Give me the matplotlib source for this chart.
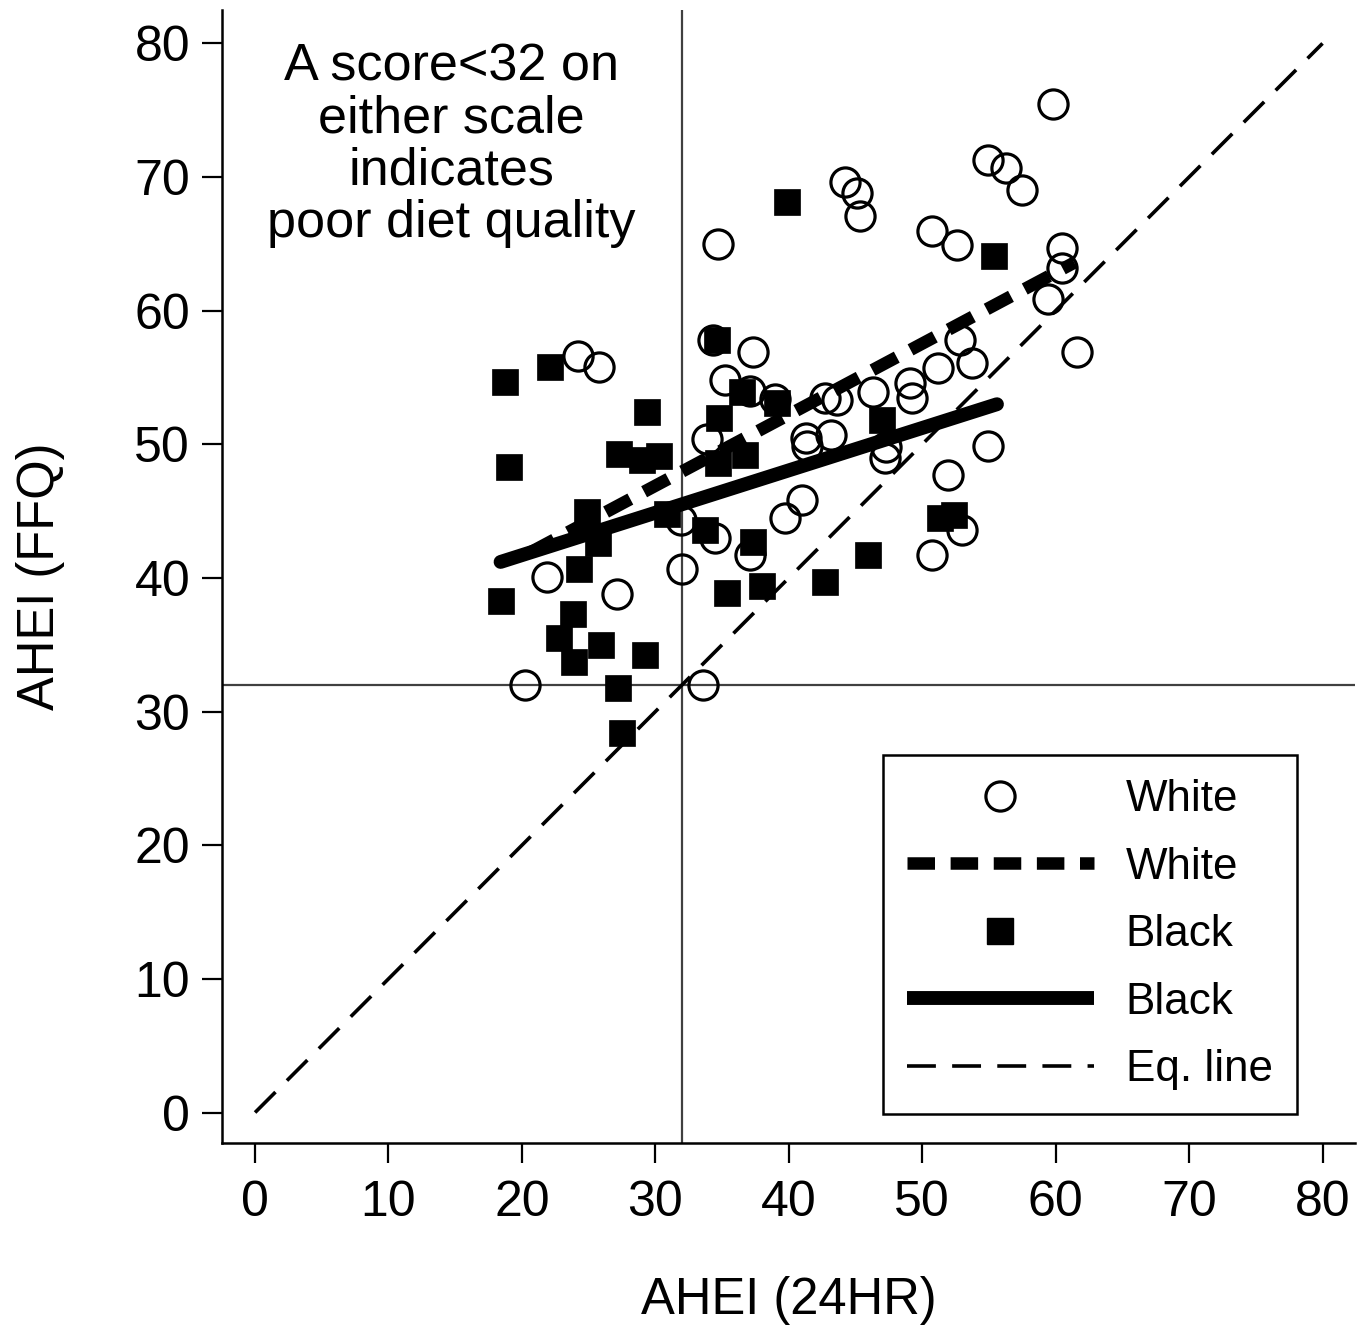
import matplotlib
matplotlib.use("Agg")
import matplotlib.pyplot as plt
from matplotlib.lines import Line2D
import numpy as np

plt.rcParams['font.family'] = ['Liberation Sans', 'DejaVu Sans']

# White participants: AHEI (24HR) vs AHEI (FFQ)
white_x = [20.2, 21.9, 24.2, 25.8, 27.1, 31.9, 32.0, 33.6, 33.9, 34.5, 34.7, 34.3, 35.2,
           37.3, 37.1, 37.1, 39.0, 39.7, 41.0, 41.3, 41.4, 42.7, 43.2, 43.6, 44.2, 45.1,
           45.3, 46.3, 47.3, 47.2, 49.1, 49.2, 50.7, 50.7, 51.2, 51.9, 52.6, 52.8, 53.0,
           53.7, 54.9, 54.9, 56.3, 57.5, 59.8, 59.4, 60.5, 60.5, 61.6]
white_y = [32.0, 40.1, 56.6, 55.8, 38.8, 44.3, 40.7, 32.0, 50.4, 43.0, 65.0, 57.8, 54.8,
           56.9, 41.7, 54.0, 53.4, 44.5, 45.8, 50.5, 49.9, 53.5, 50.7, 53.3, 69.6, 68.8,
           67.1, 53.9, 49.8, 49.0, 54.6, 53.5, 66.0, 41.7, 55.7, 47.7, 64.9, 57.8, 43.6,
           56.1, 49.9, 71.3, 70.7, 69.0, 75.5, 60.9, 64.7, 63.2, 56.9]

# Black participants
black_x = [18.7, 22.1, 19.0, 18.4, 29.4, 27.3, 29.0, 30.3, 24.9, 25.7, 24.3, 23.8, 22.8,
           23.9, 25.9, 29.2, 27.2, 27.5, 30.9, 33.7, 34.6, 36.5, 34.8, 34.7, 36.7, 37.3,
           38.0, 35.4, 39.1, 39.9, 42.7, 45.9, 47.0, 51.3, 52.4, 55.4]
black_y = [54.7, 55.8, 48.3, 38.3, 52.4, 49.3, 48.8, 49.1, 44.9, 42.6, 40.7, 37.3, 35.5,
           33.7, 35.0, 34.2, 31.8, 28.4, 44.8, 43.6, 57.8, 53.9, 52.0, 48.6, 49.2, 42.7,
           39.4, 38.9, 53.1, 68.1, 39.7, 41.7, 51.8, 44.5, 44.7, 64.1]

# Fitted lines (endpoints)
white_fit_x = [20.6, 61.4]
white_fit_y = [41.9, 63.6]
black_fit_x = [18.4, 55.6]
black_fit_y = [41.2, 53.0]

eq_x = [0, 80]
eq_y = [0, 80]
cutoff = 32

xticks = [0, 10, 20, 30, 40, 50, 60, 70, 80]
yticks = [0, 10, 20, 30, 40, 50, 60, 70, 80]

fig = plt.figure(figsize=(13.71, 13.34), dpi=100)
ax = fig.add_axes([0.162, 0.143, 0.826, 0.8495])

ax.set_xlim(-2.47, 82.4)
ax.set_ylim(-2.3, 82.5)

# cutoff reference lines
ax.axvline(cutoff, color='#404040', lw=1.6, zorder=1)
ax.axhline(cutoff, color='#404040', lw=1.6, zorder=1)

# equality line
ax.plot(eq_x, eq_y, color='black', lw=2.6, dashes=(8, 4.5), zorder=2)

# points
ax.plot(white_x, white_y, linestyle='none', marker='o', markersize=21,
        markerfacecolor='none', markeredgecolor='black', markeredgewidth=2.3, zorder=3)
ax.plot(black_x, black_y, linestyle='none', marker='s', markersize=18.5,
        markerfacecolor='black', markeredgecolor='black', markeredgewidth=0.5, zorder=3)

# fitted lines
ax.plot(white_fit_x, white_fit_y, color='black', lw=9, dashes=(2.2, 1.25),
        solid_capstyle='butt', dash_capstyle='butt', zorder=4)
ax.plot(black_fit_x, black_fit_y, color='black', lw=10, solid_capstyle='round', zorder=4)

ax.text(14.7, 72.4, "A score<32 on\neither scale\nindicates\npoor diet quality",
        ha='center', va='center', fontsize=37.5, linespacing=1.08)

for s in ['top', 'right']:
    ax.spines[s].set_visible(False)
for s in ['left', 'bottom']:
    ax.spines[s].set_linewidth(1.8)

ax.set_xticks(xticks)
ax.set_yticks(yticks)
ax.tick_params(axis='both', direction='out', length=14.5, width=1.6, labelsize=36)
ax.tick_params(axis='x', pad=12)
ax.tick_params(axis='y', pad=8.5)

ax.set_xlabel("AHEI (24HR)", fontsize=36.5, labelpad=36)
ax.set_ylabel("AHEI (FFQ)", fontsize=36.5, labelpad=50)

handles = [
    Line2D([], [], linestyle='none', marker='o', markersize=21, markerfacecolor='none',
           markeredgecolor='black', markeredgewidth=2.3),
    Line2D([], [], color='black', lw=9, dashes=(2.2, 1.25), dash_capstyle='butt'),
    Line2D([], [], linestyle='none', marker='s', markersize=18.5, markerfacecolor='black',
           markeredgecolor='black'),
    Line2D([], [], color='black', lw=10, solid_capstyle='butt'),
    Line2D([], [], color='black', lw=2.6, dashes=(8, 4.5)),
]
labels = ["White", "White", "Black", "Black", "Eq. line"]
leg = ax.legend(handles, labels, loc='lower right', bbox_to_anchor=(0.949, 0.0256),
                borderaxespad=0, fontsize=31.7, handlelength=4.25, handletextpad=0.72,
                labelspacing=0.6, borderpad=0.55, fancybox=False, framealpha=1,
                edgecolor='black')
leg.get_frame().set_linewidth(1.8)

fig.savefig("out.png", dpi=100)
